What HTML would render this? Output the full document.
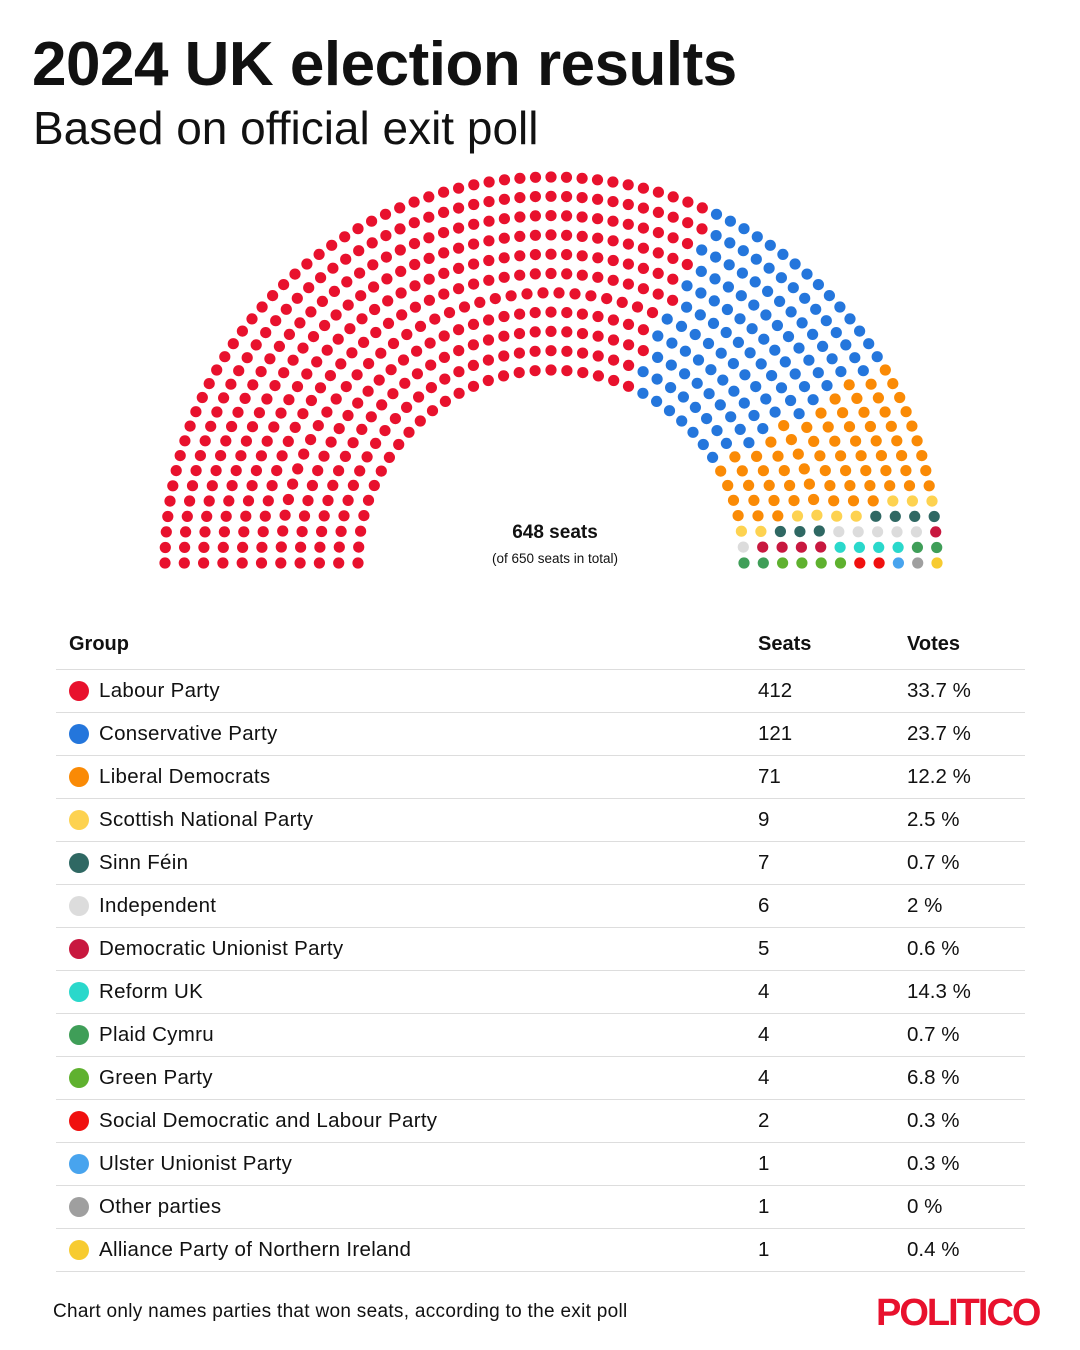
<!DOCTYPE html>
<html><head><meta charset="utf-8">
<style>
body{margin:0;background:#fff;font-family:"Liberation Sans",sans-serif;color:#111;}
#wrap{position:relative;width:1080px;height:1350px;overflow:hidden;}
.t{position:absolute;white-space:nowrap;}
</style></head><body><div id="wrap">
<div class="t" style="left:32px;top:29px;font-size:62px;font-weight:bold;letter-spacing:-0.5px;">2024 UK election results</div>
<div class="t" style="left:33px;top:101px;font-size:46px;font-weight:normal;">Based on official exit poll</div>
<svg id="parl" width="1080" height="600" style="position:absolute;left:0;top:0"></svg>
<div class="t" style="left:455px;top:522px;width:200px;text-align:center;font-size:19px;font-weight:bold;">648 seats</div>
<div class="t" style="left:455px;top:551px;width:200px;text-align:center;font-size:13.5px;">(of 650 seats in total)</div>
<div id="tbl"></div>
<div class="t" style="left:53px;top:1301px;font-size:19px;letter-spacing:0.3px;">Chart only names parties that won seats, according to the exit poll</div>
<div class="t" style="left:876px;top:1292px;font-size:38px;font-weight:bold;color:#e8112d;letter-spacing:-2px;">POLITICO</div>
</div>
<script>
var P=[["Labour Party",412,"33.7 %","#e8112d"],["Conservative Party",121,"23.7 %","#2476dc"],["Liberal Democrats",71,"12.2 %","#fa8a05"],["Scottish National Party",9,"2.5 %","#fdd250"],["Sinn Féin",7,"0.7 %","#2f6863"],["Independent",6,"2 %","#dcdcdc"],["Democratic Unionist Party",5,"0.6 %","#c8183f"],["Reform UK",4,"14.3 %","#2ad8cb"],["Plaid Cymru",4,"0.7 %","#3f9e58"],["Green Party",4,"6.8 %","#5fb12f"],["Social Democratic and Labour Party",2,"0.3 %","#f0100f"],["Ulster Unionist Party",1,"0.3 %","#48a4ee"],["Other parties",1,"0 %","#9f9f9f"],["Alliance Party of Northern Ireland",1,"0.4 %","#f7cb30"]];
var cx=551,cy=563,r0=193,dr=19.3,N=11,total=648;
var radii=[],sum=0;for(var i=0;i<N;i++){radii.push(r0+i*dr);sum+=radii[i];}
var cnt=radii.map(function(r){return Math.floor(total*r/sum);});
var s=cnt.reduce(function(a,b){return a+b},0);
var i=N-1;while(s<total){cnt[i]++;s++;i--;if(i<0)i=N-1;}
var seats=[];
for(var k=0;k<N;k++){var n=cnt[k];for(var j=0;j<n;j++){var a=Math.PI*(1-j/(n-1));seats.push([a,radii[k]]);}}
seats.sort(function(x,y){return (y[0]-x[0])||(x[1]-y[1]);});
var h="",idx=0;
P.forEach(function(p){for(var m=0;m<p[1];m++){var st=seats[idx++];var x=cx+st[1]*Math.cos(st[0]),y=cy-st[1]*Math.sin(st[0]);h+='<circle cx="'+x.toFixed(1)+'" cy="'+y.toFixed(1)+'" r="5.6" fill="'+p[3]+'"/>';}});
document.getElementById("parl").innerHTML=h;
var t='<div class="t" style="left:69px;top:633px;font-size:20px;font-weight:bold;">Group</div><div class="t" style="left:758px;top:633px;font-size:20px;font-weight:bold;">Seats</div><div class="t" style="left:907px;top:633px;font-size:20px;font-weight:bold;">Votes</div>';
t+='<div style="position:absolute;left:56px;top:669px;width:969px;height:1px;background:#ddd"></div>';
P.forEach(function(p,q){var y=691+q*43;
t+='<div style="position:absolute;left:69px;top:'+(y-10)+'px;width:20px;height:20px;border-radius:50%;background:'+p[3]+'"></div>';
t+='<div class="t" style="left:99px;top:'+(y-12)+'px;font-size:20.5px;letter-spacing:0.3px;">'+p[0]+'</div>';
t+='<div class="t" style="left:758px;top:'+(y-12)+'px;font-size:20.5px;">'+p[1]+'</div>';
t+='<div class="t" style="left:907px;top:'+(y-12)+'px;font-size:20.5px;">'+p[2]+'</div>';
t+='<div style="position:absolute;left:56px;top:'+(y+21)+'px;width:969px;height:1px;background:#ddd"></div>';});
document.getElementById("tbl").innerHTML=t;
</script>
</body></html>
